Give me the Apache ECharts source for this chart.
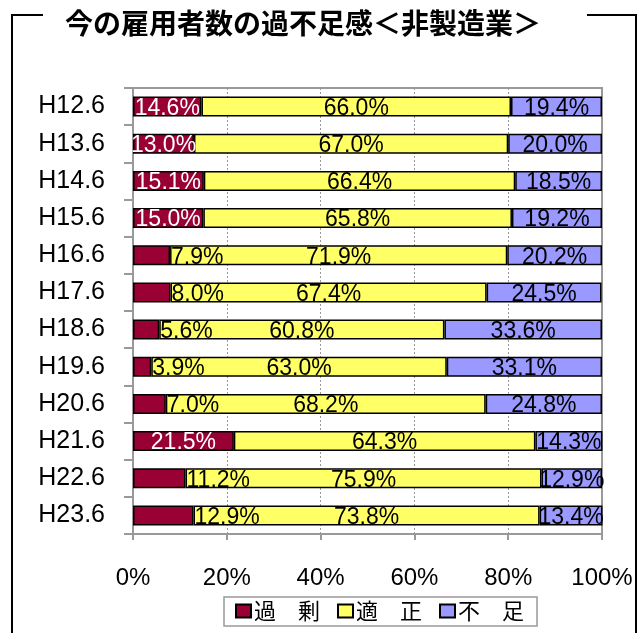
<!DOCTYPE html>
<html>
<head>
<meta charset="utf-8">
<script src="https://cdn.jsdelivr.net/npm/echarts@6/dist/echarts.min.js"></script>
<style>
  html, body { margin: 0; padding: 0; background: #fff; }
  #chart { width: 642px; height: 633px; }
</style>
</head>
<body>
<div id="chart"></div>
<script>
  // 調査時点
  var categories = ['H12.6', 'H13.6', 'H14.6', 'H15.6', 'H16.6', 'H17.6',
    'H18.6', 'H19.6', 'H20.6', 'H21.6', 'H22.6', 'H23.6']
  // 過剰 / 適正 / 不足 (%)
  var kajo = [14.6, 13.0, 15.1, 15.0, 7.9, 8.0, 5.6, 3.9, 7.0, 21.5, 11.2, 12.9]
  var tekisei = [66.0, 67.0, 66.4, 65.8, 71.9, 67.4, 60.8, 63.0, 68.2, 64.3, 75.9, 73.8]
  var fusoku = [19.4, 20.0, 18.5, 19.2, 20.2, 24.5, 33.6, 33.1, 24.8, 14.3, 12.9, 13.4]
  var xTicks = [0, 20, 40, 60, 80, 100]

  var labelFont = 'Liberation Sans, Arial, sans-serif'
  var fmt = function (p) { return p.value.toFixed(1) + '%' }

  var myChart = echarts.init(document.getElementById('chart'))

  // 棒に収まらない過剰の値は棒の右に黒字で出す
  var kajoData = kajo.map(function (v) {
    if (v >= 13) return { value: v }
    return { value: v, label: { position: 'right', color: '#000', distance: 1 } }
  })

  var baseLabel = {
    show: true,
    formatter: fmt,
    fontFamily: labelFont,
    fontSize: 23,
    offset: [0, 2]
  }

  var option = {
    animation: false,
    backgroundColor: '#fff',
    title: {
      text: '今の雇用者数の過不足感＜非製造業＞',
      left: 60,
      top: 4,
      textStyle: {
        fontFamily: 'Noto Sans CJK JP',
        fontWeight: 'bold',
        fontSize: 28,
        color: '#000'
      }
    },
    graphic: [
      {
        type: 'polyline',
        shape: { points: [[12, 640], [12, 15], [43, 15]] },
        style: { stroke: '#000', lineWidth: 2, fill: null }
      }, {
        type: 'polyline',
        shape: { points: [[587, 15], [636, 15], [636, 640]] },
        style: { stroke: '#000', lineWidth: 2, fill: null }
      }
    ],
    legend: {
      left: 224,
      top: 597,
      icon: 'rect',
      itemWidth: 15,
      itemHeight: 13,
      itemGap: 17,
      padding: [3, 13, 4, 11],
      borderColor: '#999',
      borderWidth: 1.5,
      backgroundColor: '#fff',
      textStyle: {
        fontFamily: 'Noto Sans CJK JP',
        fontSize: 22,
        color: '#000',
        padding: [0, 0, 0, -2]
      },
      data: ['過　剰', '適　正', '不　足']
    },
    grid: {
      left: 133,
      right: 40,
      top: 88,
      bottom: 99,
      show: true,
      borderColor: '#999',
      borderWidth: 2,
      backgroundColor: '#fff'
    },
    xAxis: {
      type: 'value',
      min: xTicks[0],
      max: xTicks[xTicks.length - 1],
      interval: 20,
      axisLine: { show: true, lineStyle: { color: '#999', width: 2 } },
      axisTick: { show: true, length: 6, lineStyle: { color: '#999', width: 2 } },
      axisLabel: {
        formatter: '{value}%',
        margin: 32,
        fontFamily: labelFont,
        fontSize: 24,
        color: '#000'
      },
      splitLine: {
        show: true,
        lineStyle: { color: '#999', type: [2, 2], width: 1 }
      }
    },
    yAxis: {
      type: 'category',
      inverse: true,
      data: categories,
      axisLine: { show: true, lineStyle: { color: '#999', width: 2 } },
      axisTick: { show: true, inside: false, length: 9, lineStyle: { color: '#999', width: 2 } },
      axisLabel: {
        margin: 28,
        fontFamily: labelFont,
        fontSize: 25,
        color: '#000'
      }
    },
    series: [
      {
        name: '過　剰',
        type: 'bar',
        stack: 'all',
        barWidth: 20,
        itemStyle: { color: '#990033', borderColor: '#000', borderWidth: 1.5 },
        label: Object.assign({}, baseLabel, { position: 'inside', color: '#fff' }),
        data: kajoData
      }, {
        name: '適　正',
        type: 'bar',
        stack: 'all',
        barWidth: 20,
        itemStyle: { color: '#FFFF66', borderColor: '#000', borderWidth: 1.5 },
        label: Object.assign({}, baseLabel, { position: 'inside', color: '#000' }),
        data: tekisei
      }, {
        name: '不　足',
        type: 'bar',
        stack: 'all',
        barWidth: 20,
        itemStyle: { color: '#9999FF', borderColor: '#000', borderWidth: 1.5 },
        label: Object.assign({}, baseLabel, { position: 'inside', color: '#000' }),
        data: fusoku
      }
    ]
  }
  myChart.setOption(option)
</script>
</body>
</html>
